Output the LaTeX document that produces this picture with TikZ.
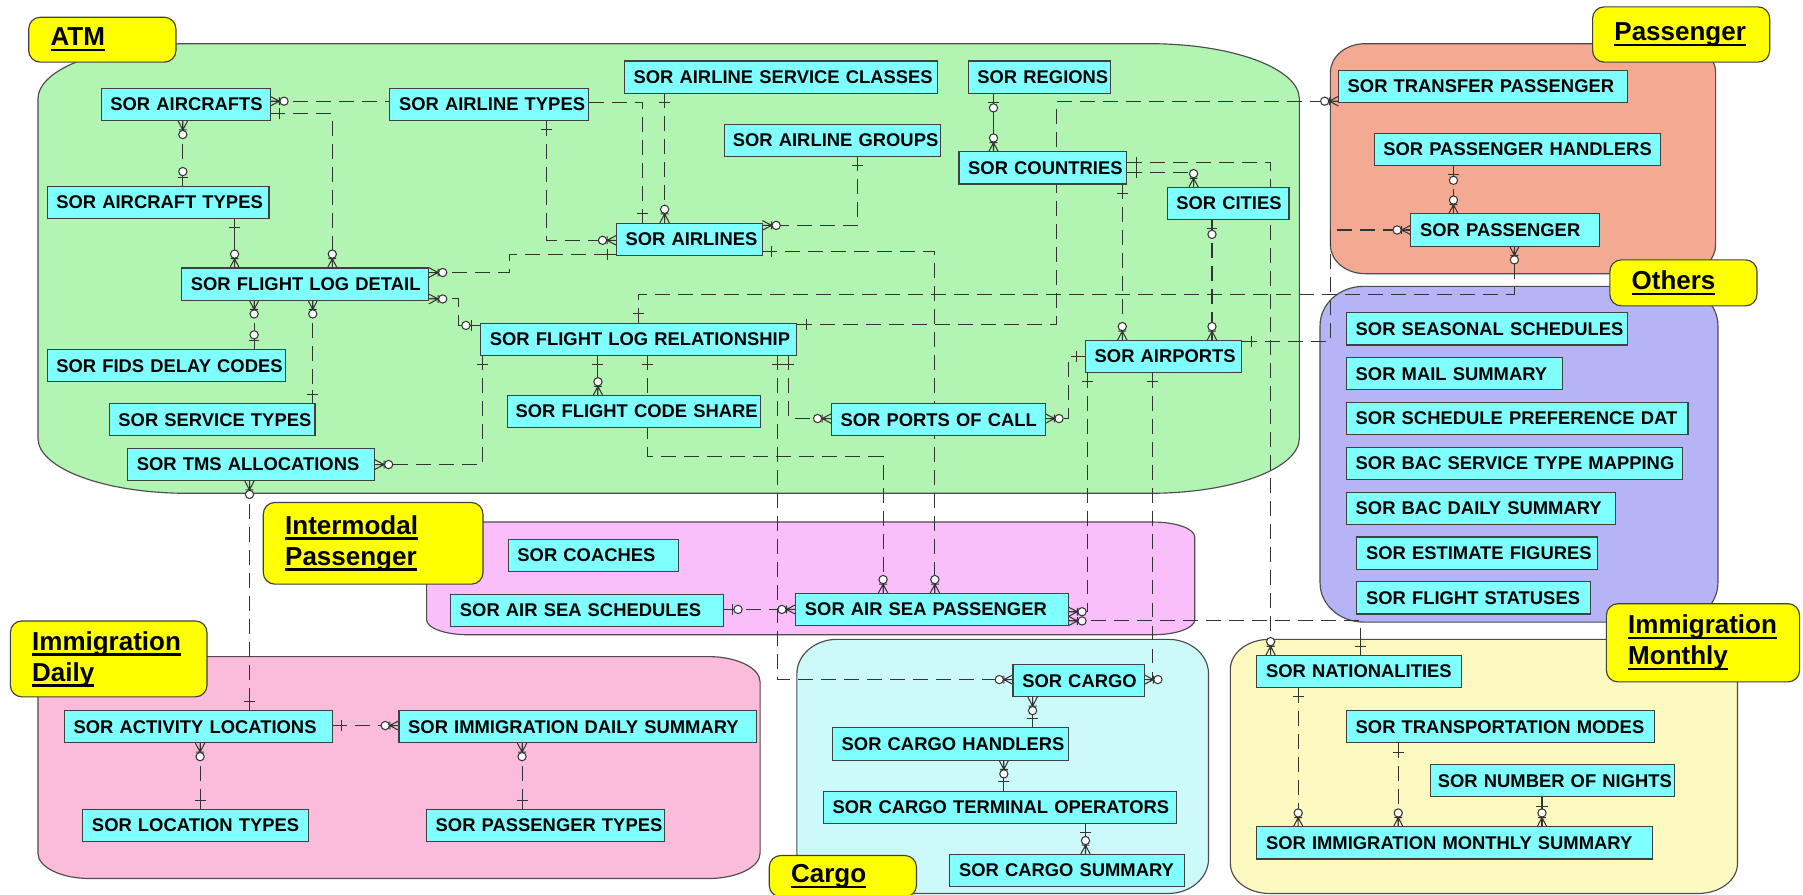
\documentclass[tikz,border=0pt]{standalone}
\usepackage{fontspec}
\setmainfont{Liberation Sans}

\definecolor{atmgreen}{RGB}{178,244,178}
\definecolor{paxsalmon}{RGB}{244,170,146}
\definecolor{othblue}{RGB}{180,180,246}
\definecolor{intpink}{RGB}{250,190,250}
\definecolor{dlypink}{RGB}{250,188,218}
\definecolor{cargocyan}{RGB}{204,250,250}
\definecolor{monyellow}{RGB}{252,250,192}
\definecolor{entcyan}{RGB}{128,255,255}
\definecolor{labyellow}{RGB}{255,255,0}

\pgfdeclarelayer{regions}
\pgfdeclarelayer{links}
\pgfsetlayers{regions,links,main}

\pgfdeclarearrow{
  name = ermany,
  setup code = {
    \pgfarrowssettipend{0pt}
    \pgfarrowssetlineend{0pt}
    \pgfarrowssetbackend{-8pt}
    \pgfarrowsupperhullpoint{0pt}{2.2pt}
    \pgfarrowsupperhullpoint{-8pt}{2.2pt}
  },
  drawing code = {
    \pgfsetdash{}{0pt}
    \pgfpathmoveto{\pgfpoint{0pt}{2.1pt}}
    \pgfpathlineto{\pgfpoint{-4pt}{0pt}}
    \pgfpathlineto{\pgfpoint{0pt}{-2.1pt}}
    \pgfpathmoveto{\pgfpoint{0pt}{0pt}}
    \pgfpathlineto{\pgfpoint{-4.3pt}{0pt}}
    \pgfpathmoveto{\pgfpoint{-4pt}{1.7pt}}
    \pgfpathlineto{\pgfpoint{-4pt}{-1.7pt}}
    \pgfusepathqstroke
    \pgfsetfillcolor{white}
    \pgfpathcircle{\pgfpoint{-6pt}{0pt}}{1.8pt}
    \pgfusepathqfillstroke
  }
}

\pgfdeclarearrow{
  name = eropt,
  setup code = {
    \pgfarrowssettipend{0pt}
    \pgfarrowssetlineend{0pt}
    \pgfarrowssetbackend{-8.2pt}
    \pgfarrowsupperhullpoint{0pt}{2.4pt}
    \pgfarrowsupperhullpoint{-8.2pt}{2.4pt}
  },
  drawing code = {
    \pgfsetdash{}{0pt}
    \pgfpathmoveto{\pgfpoint{0pt}{0pt}}
    \pgfpathlineto{\pgfpoint{-4.6pt}{0pt}}
    \pgfpathmoveto{\pgfpoint{-4pt}{2.3pt}}
    \pgfpathlineto{\pgfpoint{-4pt}{-2.3pt}}
    \pgfusepathqstroke
    \pgfsetfillcolor{white}
    \pgfpathcircle{\pgfpoint{-6.4pt}{0pt}}{1.8pt}
    \pgfusepathqfillstroke
  }
}

\pgfdeclarearrow{
  name = erone,
  setup code = {
    \pgfarrowssettipend{0pt}
    \pgfarrowssetlineend{0pt}
    \pgfarrowssetbackend{-6pt}
    \pgfarrowsupperhullpoint{0pt}{2.4pt}
    \pgfarrowsupperhullpoint{-6pt}{2.4pt}
  },
  drawing code = {
    \pgfsetdash{}{0pt}
    \pgfpathmoveto{\pgfpoint{0pt}{0pt}}
    \pgfpathlineto{\pgfpoint{-6pt}{0pt}}
    \pgfpathmoveto{\pgfpoint{-4pt}{2.4pt}}
    \pgfpathlineto{\pgfpoint{-4pt}{-2.4pt}}
    \pgfusepathqstroke
  }
}

\newcommand{\grparea}[7]{%
  \draw[grp, fill=#1] (#2+#6,#3) -- (#4-#6,#3)
    .. controls (#4-0.448*#6,#3) and (#4,#3+0.448*#7) .. (#4,#3+#7)
    -- (#4,#5-#7)
    .. controls (#4,#5-0.448*#7) and (#4-0.448*#6,#5) .. (#4-#6,#5)
    -- (#2+#6,#5)
    .. controls (#2+0.448*#6,#5) and (#2,#5-0.448*#7) .. (#2,#5-#7)
    -- (#2,#3+#7)
    .. controls (#2,#3+0.448*#7) and (#2+0.448*#6,#3) .. cycle;}

\newcommand{\grpul}[1]{\leavevmode\setbox0\hbox{#1}\rlap{\vrule height -1.3pt depth 2.4pt width \wd0}\box0}

\tikzset{
  ent/.style={draw=black!75, fill=entcyan, line width=0.5pt, anchor=north west,
    minimum height=14pt, inner xsep=1pt, inner ysep=0pt, outer sep=0pt, align=left,
    font=\bfseries\fontsize{8}{9.6}\selectfont,
    execute at begin node={\hbox to \hsize\bgroup\hskip 3pt minus 3pt},
    execute at end node={\hfil\egroup}},
  grplabel/.style={draw=black!75, fill=labyellow, line width=0.5pt, rounded corners=5pt,
    anchor=north west, align=left, inner xsep=9.5pt, inner ysep=0pt, outer sep=0pt,
    font=\bfseries\fontsize{11.3}{13.5}\selectfont},
  grp/.style={draw=black!70, line width=0.5pt},
  rel/.style={draw=black!80, line width=0.45pt, dash pattern=on 6.5pt off 3.5pt},
  relsolid/.style={draw=black!80, line width=0.45pt}
}

\begin{document}
\begin{tikzpicture}[x=0.5pt,y=-0.5pt]
\useasboundingbox (0,0) rectangle (1568,778);

\begin{pgfonlayer}{regions}
\grparea{atmgreen}{33}{38}{1130}{429}{130}{48}
\grparea{paxsalmon}{1157}{38}{1492}{238}{30}{25}
\grparea{othblue}{1148}{249}{1494}{541}{38}{34}
\grparea{intpink}{371}{454}{1039}{552}{36}{13}
\grparea{dlypink}{33}{571}{661}{764}{45}{22}
\grparea{cargocyan}{693}{556}{1051}{777}{35}{30}
\grparea{monyellow}{1070}{556}{1511}{777}{34}{26}
\end{pgfonlayer}

\node[grplabel, text width=45pt, minimum height=19.5pt] (43) at (25,15) {\grpul{ATM}};

\node[grplabel, text width=58pt, minimum height=24pt] (44) at (1385,6) {\grpul{Passenger}};

\node[grplabel, text width=45pt, minimum height=20pt] (45) at (1400,226) {\grpul{Others}};

\node[grplabel, text width=76.5pt, minimum height=35.5pt] (46) at (229,437)
{\grpul{Intermodal}\\\grpul{Passenger}};

\node[grplabel, text width=66.5pt, minimum height=33pt] (47) at (9,540)
{\grpul{Immigration}\\\grpul{Daily}};

\node[grplabel, text width=45pt, minimum height=18pt] (48) at (669,744) {\grpul{Cargo}};

\node[grplabel, text width=65pt, minimum height=34pt] (49) at (1397,525)
{\grpul{Immigration}\\\grpul{Monthly}};

\node[ent, text width=71.5pt] (1) at (88,77) {SOR AIRCRAFTS};
\node[ent, text width=84.5pt] (2) at (339,77) {SOR AIRLINE TYPES};
\node[ent, text width=134pt] (3) at (543,53) {SOR AIRLINE SERVICE CLASSES};
\node[ent, text width=60pt] (4) at (842,53) {SOR REGIONS};
\node[ent, text width=92pt] (5) at (630,108) {SOR AIRLINE GROUPS};
\node[ent, text width=71pt] (6) at (834,132) {SOR COUNTRIES};
\node[ent, text width=94.5pt] (7) at (41,162) {SOR AIRCRAFT TYPES};
\node[ent, text width=51pt] (8) at (1015,163) {SOR CITIES};
\node[ent, text width=61.5pt] (9) at (536,194) {SOR AIRLINES};
\node[ent, text width=105.5pt] (10) at (158,233) {SOR FLIGHT LOG DETAIL};
\node[ent, text width=135.5pt] (11) at (418,281) {SOR FLIGHT LOG RELATIONSHIP};
\node[ent, text width=66pt] (12) at (944,296) {SOR AIRPORTS};
\node[ent, text width=101.5pt] (13) at (41,304) {SOR FIDS DELAY CODES};
\node[ent, text width=108pt] (14) at (441,344) {SOR FLIGHT CODE SHARE};
\node[ent, text width=91pt] (15) at (723,351) {SOR PORTS OF CALL};
\node[ent, text width=87.5pt] (16) at (95,351) {SOR SERVICE TYPES};
\node[ent, text width=105.5pt] (17) at (111,390) {SOR TMS ALLOCATIONS};

\node[ent, text width=123.5pt] (18) at (1164,61) {SOR TRANSFER PASSENGER};
\node[ent, text width=122.5pt] (19) at (1195,116) {SOR PASSENGER HANDLERS};
\node[ent, text width=80pt] (20) at (1227,186) {SOR PASSENGER};

\node[ent, text width=120pt] (21) at (1171,272) {SOR SEASONAL SCHEDULES};
\node[ent, text width=92pt] (22) at (1171,311) {SOR MAIL SUMMARY};
\node[ent, text width=146.5pt] (23) at (1171,350) {SOR SCHEDULE PREFERENCE DAT};
\node[ent, text width=144pt] (24) at (1171,389) {SOR BAC SERVICE TYPE MAPPING};
\node[ent, text width=115pt] (25) at (1171,428) {SOR BAC DAILY SUMMARY};
\node[ent, text width=102.5pt] (26) at (1180,467) {SOR ESTIMATE FIGURES};
\node[ent, text width=99.5pt] (27) at (1180,506) {SOR FLIGHT STATUSES};

\node[ent, text width=72pt] (28) at (442,469) {SOR COACHES};
\node[ent, text width=116.5pt] (29) at (392,517) {SOR AIR SEA SCHEDULES};
\node[ent, text width=116.5pt] (30) at (692,516) {SOR AIR SEA PASSENGER};

\node[ent, text width=114.5pt] (31) at (56,618) {SOR ACTIVITY LOCATIONS};
\node[ent, text width=153.5pt] (32) at (347,618) {SOR IMMIGRATION DAILY SUMMARY};
\node[ent, text width=96pt] (33) at (72,704) {SOR LOCATION TYPES};
\node[ent, text width=101.5pt] (34) at (371,704) {SOR PASSENGER TYPES};

\node[ent, text width=55pt] (35) at (881,578) {SOR CARGO};
\node[ent, text width=100.5pt] (36) at (724,633) {SOR CARGO HANDLERS};
\node[ent, text width=151.5pt] (37) at (716,688) {SOR CARGO TERMINAL OPERATORS};
\node[ent, text width=100pt] (38) at (826,743) {SOR CARGO SUMMARY};

\node[ent, text width=87pt] (39) at (1093,570) {SOR NATIONALITIES};
\node[ent, text width=132pt] (40) at (1171,618) {SOR TRANSPORTATION MODES};
\node[ent, text width=104pt] (41) at (1244,665) {SOR NUMBER OF NIGHTS};
\node[ent, text width=170pt] (42) at (1093,719) {SOR IMMIGRATION MONTHLY SUMMARY};

\begin{pgfonlayer}{links}
\draw[rel, ermany-eropt] (1.south -| 159,0) -- (7.north -| 159,0);

\draw[relsolid, erone-ermany] (7.south -| 204,0) -- (10.north -| 204,0);

\draw[rel, erone-ermany] (1.east |- 0,99) -| (10.north -| 289,0);

\draw[rel, ermany-] (1.east |- 0,88) -- (2.west |- 0,88);

\draw[rel, erone-ermany] (2.south -| 475,0) |- (9.west |- 0,209);

\draw[rel, -erone] (2.east |- 0,89) -| (9.north -| 559,0);

\draw[rel, erone-ermany] (3.south -| 578,0) -- (9.north -| 578,0);

\draw[rel, erone-ermany] (5.south -| 746,0) |- (9.east |- 0,196);

\draw[rel, erone-ermany] (9.east |- 0,219) -| (30.north -| 813,0);

\draw[rel, ermany-erone] (10.east |- 0,237) -- (443,237) |- (9.west |- 0,221);

\draw[rel, ermany-eropt] (10.east |- 0,260) -- (399,260) |- (11.west |- 0,283);

\draw[rel, erone-ermany] (11.north -| 555,0) |- (1317,256) -- (20.south -| 1317,0);

\draw[rel, erone-ermany] (11.east |- 0,282) -- (919,282) |- (18.west |- 0,88);

\draw[rel, erone-ermany] (11.south -| 676,0) |- (35.west |- 0,591);

\draw[rel, erone-ermany] (11.south -| 686,0) |- (15.west |- 0,364);

\draw[rel, erone-ermany] (11.south -| 563,0) |- (768,397) -- (30.north -| 768,0);

\draw[relsolid, erone-ermany] (11.south -| 520,0) -- (14.north -| 520,0);

\draw[rel, erone-ermany] (11.south -| 420,0) |- (17.east |- 0,404);

\draw[rel, ermany-eropt] (10.south -| 221,0) -- (13.north -| 221,0);

\draw[rel, ermany-erone] (10.south -| 272,0) -- (16.north -| 272,0);

\draw[rel, ermany-erone] (17.south -| 217,0) -- (31.north -| 217,0);

\draw[rel, erone-ermany] (31.east |- 0,631) -- (32.west |- 0,631);

\draw[rel, ermany-erone] (31.south -| 174,0) -- (33.north -| 174,0);

\draw[rel, ermany-erone] (32.south -| 454,0) -- (34.north -| 454,0);

\draw[rel, eropt-ermany] (29.east |- 0,530) -- (30.west |- 0,530);

\draw[rel, erone-ermany] (12.south -| 946,0) |- (30.east |- 0,532);

\draw[rel, ermany-erone] (30.east |- 0,540) -| (39.north -| 1183,0);

\draw[rel, erone-ermany] (12.south -| 1002,0) |- (35.east |- 0,591);

\draw[rel, erone-ermany] (12.west |- 0,310) -- (929,310) |- (15.east |- 0,364);

\draw[rel, erone-ermany] (12.east |- 0,297) -- (1157,297) |- (20.west |- 0,200);

\draw[rel, erone-ermany] (6.south -| 976,0) -- (12.north -| 976,0);

\draw[rel, eropt-ermany] (8.south -| 1054,0) -- (12.north -| 1054,0);

\draw[rel, erone-ermany] (6.east |- 0,150) -| (8.north -| 1038,0);

\draw[rel, erone-ermany] (6.east |- 0,141) -| (39.north -| 1105,0);

\draw[relsolid, eropt-ermany] (4.south -| 864,0) -- (6.north -| 864,0);

\draw[rel, eropt-ermany] (19.south -| 1264,0) -- (20.north -| 1264,0);

\draw[relsolid, ermany-erone] (35.south -| 898,0) -- (36.north -| 898,0);

\draw[relsolid, ermany-erone] (36.south -| 873,0) -- (37.north -| 873,0);

\draw[relsolid, erone-ermany] (37.south -| 944,0) -- (38.north -| 944,0);

\draw[rel, erone-ermany] (39.south -| 1129,0) -- (42.north -| 1129,0);

\draw[rel, erone-ermany] (40.south -| 1216,0) -- (42.north -| 1216,0);

\draw[relsolid, erone-ermany] (41.south -| 1341,0) -- (42.north -| 1341,0);
\end{pgfonlayer}
\end{tikzpicture}
\end{document}
